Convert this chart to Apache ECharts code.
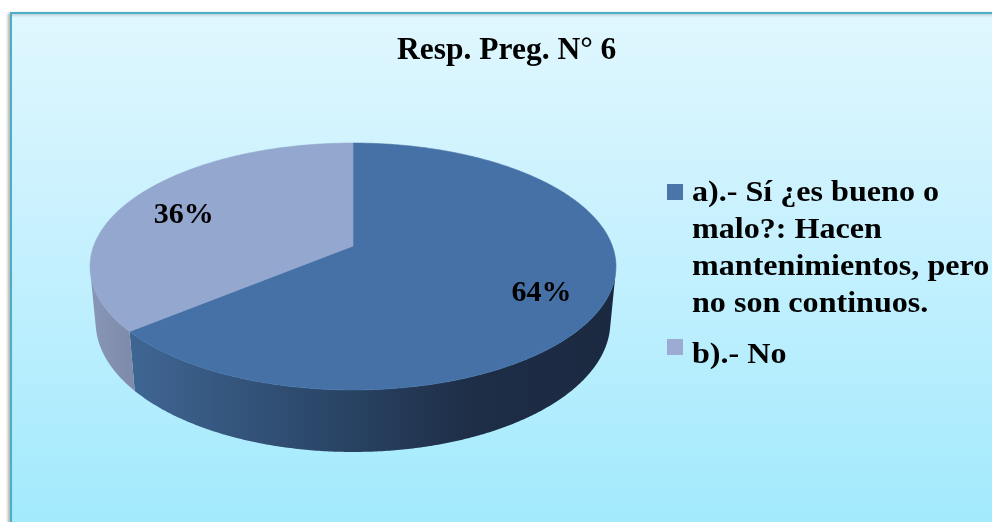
<!DOCTYPE html>
<html>
<head>
<meta charset="utf-8">
<script src="https://cdn.jsdelivr.net/npm/echarts@6/dist/echarts.min.js"></script>
<style>
html,body{margin:0;padding:0;background:#ffffff;}
#chart{width:992px;height:522px;}
</style>
</head>
<body>
<div id="chart"></div>
<script>
// ---- data ----
const chartTitle = 'Resp. Preg. N° 6';
const categories = ['a).- Sí ¿es bueno o malo?: Hacen mantenimientos, pero no son continuos.', 'b).- No'];
const values = [64, 36];

// ---- style ----
const topColors = ['#4571a6', '#93a7cf'];
const legendColors = ['#4a75a9', '#9babd1'];
const sideStops = [
  [[0, '#3f6693'], [0.4, '#2b4769'], [0.7, '#1e2e47'], [1, '#1b2940']],
  [[0, '#8896b7'], [1, '#7d8aa9']]
];
const FONT = '"Liberation Serif","Times New Roman",serif';
const LEGEND_FONT = 'bold 30px ' + FONT;

// ---- 3D projection of the pie (perspective view of a flat disc) ----
const P = { cx: 353, cy: 246, k: 1385, D: 5.341, s: 0.463, c: 0.8864, h: 0.244 };
function project(deg, r, Y) {
  const t = deg * Math.PI / 180;
  const X = r * Math.sin(t), Z = r * Math.cos(t);
  const u = Z * P.s + Y * P.c;
  const w = P.D + Z * P.c - Y * P.s;
  return [P.cx + P.k * X / w, P.cy - P.k * u / w];
}
const visMin = Math.acos(-1 / (P.D * P.c)) * 180 / Math.PI;
const visMax = 360 - visMin;

function arc(a0, a1, Y) {
  const pts = [];
  const n = Math.max(2, Math.ceil(Math.abs(a1 - a0) / 0.5));
  for (let j = 0; j <= n; j++) pts.push(project(a0 + (a1 - a0) * j / n, 1, Y));
  return pts;
}

function renderItem(params, api) {
  const i = params.dataIndex;
  const total = values.reduce((a, b) => a + b, 0);
  let before = 0;
  for (let j = 0; j < i; j++) before += values[j];
  const v = api.value(0);
  const a0 = before / total * 360;
  const a1 = (before + v) / total * 360;
  const children = [];

  // visible outer side
  const lo = Math.max(a0, visMin), hi = Math.min(a1, visMax);
  if (hi > lo) {
    const pts = arc(lo, hi, 0).concat(arc(hi, lo, -P.h));
    let xmin = Infinity, xmax = -Infinity;
    pts.forEach(p => { xmin = Math.min(xmin, p[0]); xmax = Math.max(xmax, p[0]); });
    children.push({
      type: 'polygon', z2: 1,
      shape: { points: pts },
      style: {
        fill: new echarts.graphic.LinearGradient(xmin, 0, xmax, 0,
          sideStops[i].map(s => ({ offset: s[0], color: s[1] })), true),
        stroke: null
      }
    });
  }

  // top face
  const topPts = [project(0, 0, 0)].concat(arc(a0, a1, 0));
  children.push({
    type: 'polygon', z2: 10,
    shape: { points: topPts },
    style: { fill: topColors[i], stroke: topColors[i], lineWidth: 0.6 }
  });

  // percentage label
  const mid = (a0 + a1) / 2;
  const lp = project(mid, 0.76, 0);
  children.push({
    type: 'text', z2: 20,
    x: lp[0], y: lp[1] + 6,
    style: {
      text: Math.round(v / total * 100) + '%',
      font: 'bold 30px ' + FONT,
      fill: '#000000',
      align: 'center',
      verticalAlign: 'middle'
    }
  });
  return { type: 'group', children: children };
}

// ---- word wrap for legend text ----
const measureCtx = document.createElement('canvas').getContext('2d');
function wrapText(text, font, maxW) {
  measureCtx.font = font;
  const words = text.split(' ');
  const lines = [];
  let line = '';
  words.forEach(w => {
    const test = line ? line + ' ' + w : w;
    if (line && measureCtx.measureText(test).width > maxW) {
      lines.push(line);
      line = w;
    } else {
      line = test;
    }
  });
  if (line) lines.push(line);
  return lines.join('\n');
}

// ---- legend built from categories ----
const legendLayout = [
  { markerY: 184, textY: 174.5 },
  { markerY: 339, textY: 336.5 }
];
const legendGraphics = [];
categories.forEach((name, i) => {
  legendGraphics.push({
    type: 'rect', z: 5,
    shape: { x: 667, y: legendLayout[i].markerY, width: 16, height: 16 },
    style: { fill: legendColors[i] }
  });
  legendGraphics.push({
    type: 'text', z: 5,
    x: 692, y: legendLayout[i].textY, scaleX: 1.07,
    style: {
      text: wrapText(name, LEGEND_FONT, 285),
      font: LEGEND_FONT,
      fill: '#000000',
      lineHeight: 37,
      verticalAlign: 'top',
      align: 'left'
    }
  });
});

const chart = echarts.init(document.getElementById('chart'), null, { renderer: 'canvas' });
chart.setOption({
  animation: false,
  backgroundColor: 'transparent',
  title: {
    text: chartTitle,
    left: 397, top: 35, padding: 0,
    textStyle: { fontFamily: FONT, fontSize: 31.5, fontWeight: 'bold', color: '#000000' }
  },
  graphic: [
    {
      type: 'rect', z: -10,
      shape: { x: 11, y: 13, width: 1000, height: 530 },
      style: {
        fill: new echarts.graphic.LinearGradient(0, 13, 0, 522, [
          { offset: 0, color: '#e0f7fe' },
          { offset: 0.5, color: '#c3f0fe' },
          { offset: 1, color: '#a2eafd' }
        ], true),
        stroke: '#4bafc8', lineWidth: 2,
        shadowBlur: 3, shadowOffsetX: -2, shadowOffsetY: 1, shadowColor: 'rgba(0,0,0,0.25)'
      }
    }
  ].concat(legendGraphics),
  series: [{
    type: 'custom',
    name: 'Resp. Preg. N° 6',
    coordinateSystem: 'none',
    silent: true,
    renderItem: renderItem,
    data: values.map((v, i) => ({ name: categories[i], value: v }))
  }]
});
</script>
</body>
</html>
